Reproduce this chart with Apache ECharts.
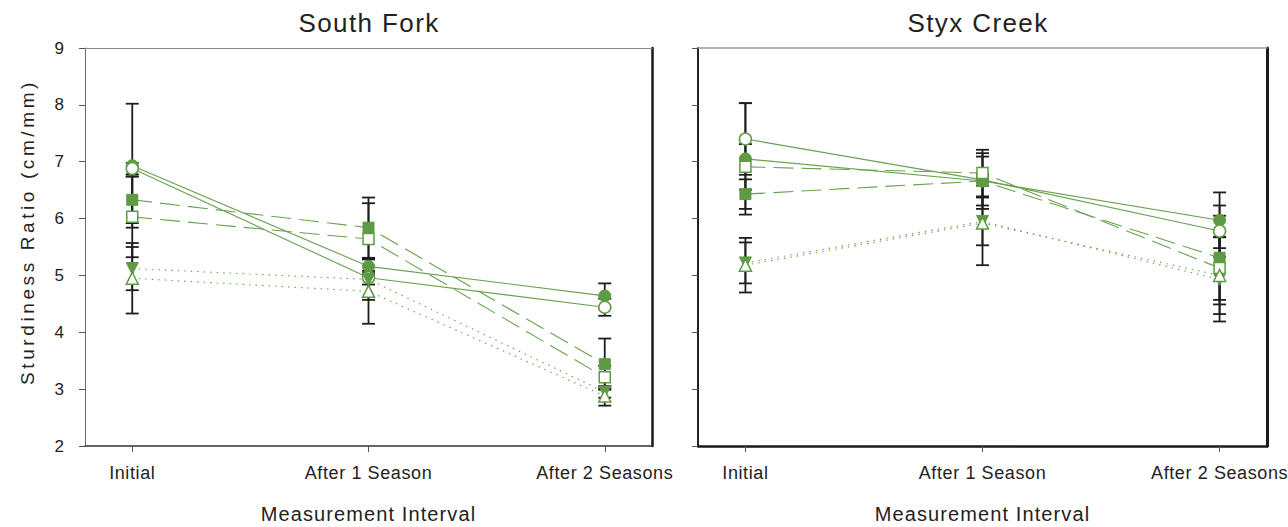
<!DOCTYPE html>
<html>
<head>
<meta charset="utf-8">
<script src="https://cdn.jsdelivr.net/npm/echarts@6/dist/echarts.min.js"></script>
<style>
html,body{margin:0;padding:0;background:#fff;}
#c{width:1288px;height:527px;}
</style>
</head>
<body>
<div id="c"></div>
<script>
// ---------- data ----------
const categories = ['Initial', 'After 1 Season', 'After 2 Seasons'];
const panelTitles = ['South Fork', 'Styx Creek'];
const yTickMin = 2, yTickMax = 9, yTickStep = 1;
const yAxisTitle = 'Sturdiness Ratio (cm/mm)';
const xAxisTitle = 'Measurement Interval';

// South Fork
const sfFilledCircle = [6.93, 5.16, 4.64];
const sfFilledCircleErr = [1.09, 0.12, 0.22];
const sfOpenCircle = [6.88, 4.96, 4.44];
const sfOpenCircleErr = [0.10, 0.12, 0.15];
const sfFilledSquare = [6.33, 5.84, 3.44];
const sfFilledSquareErr = [0.41, 0.53, 0.45];
const sfOpenSquare = [6.03, 5.64, 3.21];
const sfOpenSquareErr = [0.71, 0.63, 0.20];
const sfFilledTri = [5.12, 4.93, 2.95];
const sfFilledTriErr = [0.38, 0.36, 0.10];
const sfOpenTri = [4.95, 4.72, 2.88];
const sfOpenTriErr = [0.62, 0.57, 0.17];

// Styx Creek
const scFilledCircle = [7.05, 6.66, 5.97];
const scFilledCircleErr = [0.98, 0.43, 0.49];
const scOpenCircle = [7.40, 6.68, 5.78];
const scOpenCircleErr = [0.63, 0.10, 0.45];
const scFilledSquare = [6.43, 6.66, 5.31];
const scFilledSquareErr = [0.26, 0.49, 0.74];
const scOpenSquare = [6.91, 6.80, 5.13];
const scOpenSquareErr = [0.40, 0.41, 0.64];
const scFilledTri = [5.22, 5.95, 4.93];
const scFilledTriErr = [0.36, 0.42, 0.74];
const scOpenTri = [5.18, 5.92, 5.00];
const scOpenTriErr = [0.48, 0.74, 0.68];

// ---------- styling ----------
const GREEN = '#5f9a44';
const LINE_GREEN = '#69a24f';
const FONT = "'Liberation Sans', Arial, sans-serif";

const seriesDefs = [
  {key:'FilledCircle', symbol:'circle', size:12, filled:true, dash:'solid', rot:0},
  {key:'OpenCircle', symbol:'circle', size:12, filled:false, dash:'solid', rot:0},
  {key:'FilledSquare', symbol:'rect', size:11, filled:true, dash:[20,8], rot:0},
  {key:'OpenSquare', symbol:'rect', size:11, filled:false, dash:[20,8], rot:0},
  {key:'FilledTri', symbol:'triangle', size:12, filled:true, dash:[1.5,5], rot:180},
  {key:'OpenTri', symbol:'triangle', size:12, filled:false, dash:[1.5,5], rot:0}
];
const panelData = [
  {FilledCircle:[sfFilledCircle,sfFilledCircleErr], OpenCircle:[sfOpenCircle,sfOpenCircleErr],
   FilledSquare:[sfFilledSquare,sfFilledSquareErr], OpenSquare:[sfOpenSquare,sfOpenSquareErr],
   FilledTri:[sfFilledTri,sfFilledTriErr], OpenTri:[sfOpenTri,sfOpenTriErr]},
  {FilledCircle:[scFilledCircle,scFilledCircleErr], OpenCircle:[scOpenCircle,scOpenCircleErr],
   FilledSquare:[scFilledSquare,scFilledSquareErr], OpenSquare:[scOpenSquare,scOpenSquareErr],
   FilledTri:[scFilledTri,scFilledTriErr], OpenTri:[scOpenTri,scOpenTriErr]}
];

const grids = [
  {left:85, top:48, width:567, height:398, outerBoundsMode:'none', containLabel:false},
  {left:698, top:48, width:569, height:398, outerBoundsMode:'none', containLabel:false}
];
const titleCenters = [364, 973];
const catIdx = categories.map((c,i)=>i);

const xAxes = [], yAxes = [], series = [];
const borderStyles = [
  {bottom:{c:'#333',w:1.6}, top:{c:'#8a8a8a',w:1}, left:{c:'#6a6a6a',w:1}, right:{c:'#1a1a1a',w:2.5}, labels:true},
  {bottom:{c:'#1a1a1a',w:2.5}, top:{c:'#9a9a9a',w:1.5}, left:{c:'#222',w:2}, right:{c:'#1a1a1a',w:3}, labels:false}
];

grids.forEach((g, p) => {
  const b = borderStyles[p];
  xAxes.push({
    gridIndex:p, type:'value', min:-0.2, max:2.2, position:'bottom',
    axisLine:{show:true, onZero:false, lineStyle:{color:b.bottom.c, width:b.bottom.w}},
    axisTick:{show:true, customValues:catIdx, length:6, inside:false, lineStyle:{color:'#555', width:1}},
    axisLabel:{show:true, customValues:catIdx, formatter:(v)=>categories[Math.round(v)] || '',
      margin:18, fontSize:18, color:'#222', fontFamily:FONT},
    splitLine:{show:false},
    name:xAxisTitle, nameLocation:'middle', nameGap:58,
    nameTextStyle:{fontSize:20, color:'#222', fontFamily:FONT}
  });
  xAxes.push({
    gridIndex:p, type:'value', min:-0.2, max:2.2, position:'top',
    axisLine:{show:true, onZero:false, lineStyle:{color:b.top.c, width:b.top.w}},
    axisTick:{show:false}, axisLabel:{show:false}, splitLine:{show:false}
  });
  yAxes.push({
    gridIndex:p, type:'value', min:yTickMin, max:yTickMax, interval:yTickStep, position:'left',
    axisLine:{show:true, onZero:false, lineStyle:{color:b.left.c, width:b.left.w}},
    axisTick:{show:true, length:6, lineStyle:{color:'#555', width:1}},
    axisLabel:{show:b.labels, margin:21, fontSize:17, color:'#222', fontFamily:FONT},
    splitLine:{show:false}
  });
  yAxes.push({
    gridIndex:p, type:'value', min:yTickMin, max:yTickMax, interval:yTickStep, position:'right',
    axisLine:{show:true, onZero:false, lineStyle:{color:b.right.c, width:b.right.w}},
    axisTick:{show:false}, axisLabel:{show:false}, splitLine:{show:false}
  });

  const xi = p*2, yi = p*2;
  // error bars
  seriesDefs.forEach(d => {
    const [vals, errs] = panelData[p][d.key];
    series.push({
      type:'custom', xAxisIndex:xi, yAxisIndex:yi, z:2, silent:true,
      data: vals.map((v,i)=>[i, v-errs[i], v+errs[i]]),
      encode:{x:0, y:[1,2]},
      renderItem:(params, api) => {
        const x = api.value(0);
        const lo = api.coord([x, api.value(1)]);
        const hi = api.coord([x, api.value(2)]);
        const hw = 6.5;
        const st = {stroke:'#1e1e1e', lineWidth:1.8};
        return {type:'group', children:[
          {type:'line', shape:{x1:lo[0],y1:lo[1],x2:hi[0],y2:hi[1]}, style:st},
          {type:'line', shape:{x1:lo[0]-hw,y1:lo[1],x2:lo[0]+hw,y2:lo[1]}, style:st},
          {type:'line', shape:{x1:hi[0]-hw,y1:hi[1],x2:hi[0]+hw,y2:hi[1]}, style:st}
        ]};
      }
    });
  });
  // lines + markers
  seriesDefs.forEach(d => {
    const [vals] = panelData[p][d.key];
    series.push({
      type:'line', xAxisIndex:xi, yAxisIndex:yi, z:3,
      data: vals.map((v,i)=>[i, v]),
      symbol:d.symbol, symbolSize:d.size, symbolRotate:d.rot, showAllSymbol:true,
      lineStyle:{color:LINE_GREEN, width:1.1, type:d.dash},
      itemStyle: d.filled ? {color:GREEN, borderColor:GREEN, borderWidth:1}
                          : {color:'#ffffff', borderColor:GREEN, borderWidth:1.5},
      emphasis:{disabled:true}
    });
  });
});

const option = {
  animation:false,
  backgroundColor:'#ffffff',
  title: panelTitles.map((t,p)=>({
    text:t, left: titleCenters[p], top:5, textAlign:'center',
    textStyle:{fontSize:26, fontWeight:'normal', color:'#222', fontFamily:FONT}
  })),
  grid: grids,
  xAxis: xAxes,
  yAxis: yAxes,
  graphic:[{
    type:'text', x:27, y:232, rotation:Math.PI/2,
    style:{text:yAxisTitle, fontSize:19, fontFamily:FONT, fill:'#222', textAlign:'center', textVerticalAlign:'middle'}
  }],
  series: series
};

const chart = echarts.init(document.getElementById('c'), null, {renderer:'svg'});
chart.setOption(option);

const spacing = {};
panelTitles.forEach(t=>spacing[t]='1.4px');
categories.forEach(t=>spacing[t]='0.6px');
spacing[xAxisTitle] = '1.1px';
spacing[yAxisTitle] = '3.6px';
function applySpacing(){
  document.querySelectorAll('#c text').forEach(el=>{
    const s = spacing[el.textContent];
    if (s) el.style.letterSpacing = s;
  });
}
chart.on('finished', applySpacing);
applySpacing();
setTimeout(applySpacing, 50);
</script>
</body>
</html>
